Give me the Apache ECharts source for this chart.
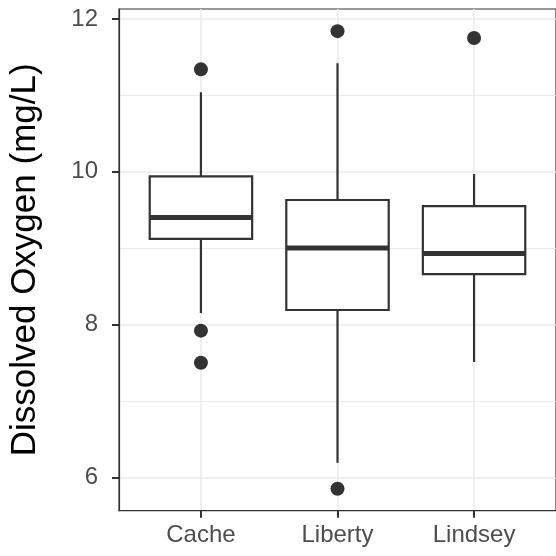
<!DOCTYPE html>
<html>
<head>
<meta charset="utf-8">
<script src="https://cdn.jsdelivr.net/npm/echarts@6/dist/echarts.min.js"></script>
<style>
  html, body { margin: 0; padding: 0; background: #ffffff; }
  #chart { width: 556px; height: 556px; }
</style>
</head>
<body>
<div id="chart"></div>
<script>
// Dissolved oxygen summary per site (mg/L)
const categories = ['Cache', 'Liberty', 'Lindsey'];
const lowerWhisker = [8.15, 6.19, 7.51];
const lowerHinge = [9.12, 8.19, 8.66];
const medians = [9.40, 9.00, 8.93];
const upperHinge = [9.94, 9.63, 9.55];
const upperWhisker = [11.04, 11.42, 9.97];

// Points beyond the whiskers
const outlierSite = ['Cache', 'Cache', 'Cache', 'Liberty', 'Liberty', 'Lindsey'];
const outlierValue = [11.34, 7.92, 7.50, 11.84, 5.85, 11.75];

// Axis ticks
const yMajorTicks = [6, 8, 10, 12];
const yMinorTicks = [7, 9, 11];
const xTicks = categories.map((c, i) => i + 1);

const boxData = categories.map((c, i) => [i + 1, lowerWhisker[i], lowerHinge[i], medians[i], upperHinge[i], upperWhisker[i]]);
const outlierData = outlierSite.map((s, k) => [categories.indexOf(s) + 1, outlierValue[k]]);

const INK = '#333333';
const GRID = '#EBEBEB';
const LABEL = '#4D4D4D';
const FONT = '"Liberation Sans", Arial, Helvetica, sans-serif';

function renderBox(params, api) {
  const x = api.value(0);
  const lo = api.coord([x, api.value(1)]);
  const q1 = api.coord([x, api.value(2)]);
  const md = api.coord([x, api.value(3)]);
  const q3 = api.coord([x, api.value(4)]);
  const hi = api.coord([x, api.value(5)]);
  const half = api.size([0.75, 0])[0] / 2;
  const cx = lo[0];
  return {
    type: 'group',
    children: [
      { type: 'line', shape: { x1: cx, y1: q3[1], x2: cx, y2: hi[1] }, style: { stroke: INK, lineWidth: 2.2 } },
      { type: 'line', shape: { x1: cx, y1: q1[1], x2: cx, y2: lo[1] }, style: { stroke: INK, lineWidth: 2.2 } },
      { type: 'rect', shape: { x: cx - half, y: q3[1], width: half * 2, height: q1[1] - q3[1] },
        style: { fill: '#ffffff', stroke: INK, lineWidth: 2.2 } },
      { type: 'line', shape: { x1: cx - half, y1: md[1], x2: cx + half, y2: md[1] }, style: { stroke: INK, lineWidth: 5 } }
    ]
  };
}

const yMin = 5.563, yMax = 12.13;

const chart = echarts.init(document.getElementById('chart'), null, { renderer: 'canvas' });
chart.setOption({
  animation: false,
  backgroundColor: '#ffffff',
  grid: {
    left: 118.3, right: -2.5, top: 9, bottom: 45.3,
    show: true, borderColor: INK, borderWidth: 1.2, backgroundColor: 'transparent'
  },
  xAxis: {
    type: 'value', min: 0.4, max: 3.6,
    axisLine: { show: true, lineStyle: { color: INK, width: 1.2 } },
    axisTick: { show: true, customValues: xTicks, length: 7, lineStyle: { color: INK, width: 2 } },
    axisLabel: {
      customValues: xTicks, margin: 13, color: LABEL, fontSize: 24, fontFamily: FONT,
      formatter: v => categories[Math.round(v) - 1] || ''
    },
    splitLine: { show: true, lineStyle: { color: GRID, width: 1.6 } }
  },
  yAxis: [
    {
      type: 'value', min: yMin, max: yMax,
      name: 'Dissolved Oxygen (mg/L)', nameLocation: 'middle', nameGap: 76, nameRotate: 90,
      nameTextStyle: { color: '#000000', fontSize: 35, fontFamily: FONT },
      axisLine: { show: true, lineStyle: { color: INK, width: 1.2 } },
      axisTick: { show: true, customValues: yMajorTicks, length: 7, lineStyle: { color: INK, width: 2 } },
      axisLabel: { customValues: yMajorTicks, margin: 21, color: LABEL, fontSize: 24, fontFamily: FONT },
      splitLine: { show: true, lineStyle: { color: GRID, width: 1.6 } }
    },
    {
      type: 'value', min: yMin, max: yMax, position: 'left',
      axisLine: { show: false },
      axisTick: { show: false, customValues: yMinorTicks },
      axisLabel: { show: false, customValues: yMinorTicks },
      splitLine: { show: true, lineStyle: { color: GRID, width: 1.2 } }
    }
  ],
  series: [
    {
      type: 'custom',
      renderItem: renderBox,
      data: boxData,
      encode: { x: 0, y: [1, 2, 3, 4, 5] },
      clip: false,
      z: 3
    },
    {
      type: 'scatter',
      data: outlierData,
      symbol: 'circle',
      symbolSize: 14,
      itemStyle: { color: INK, opacity: 1 },
      z: 4
    }
  ]
});
</script>
</body>
</html>
